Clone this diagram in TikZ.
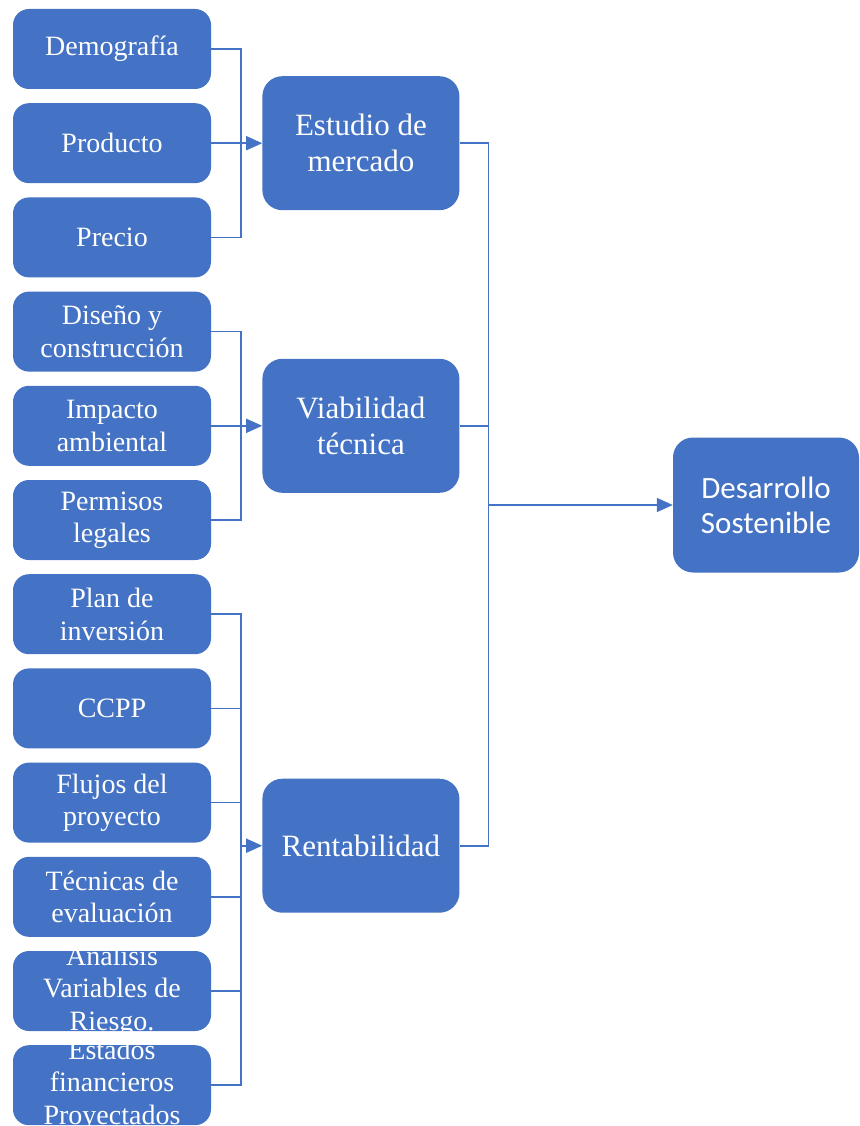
\documentclass[tikz,border=0pt]{standalone}
\usepackage{fontspec}
\usepackage{tikz}
\usepackage{xcolor}
\usetikzlibrary{positioning,arrows.meta}
\setmainfont{Liberation Serif}
\newfontfamily\calibrifont{Carlito}
\definecolor{office-blue}{HTML}{4472C4}
\newcommand{\itemtext}[1]{\begin{minipage}[c][80pt][c]{198pt}\centering #1\end{minipage}}
\tikzset{
    item-box/.style = {fill=office-blue, text=white, rectangle, rounded corners=16pt, inner sep=0pt, font=\fontsize{28}{32.5}\selectfont},
    stage-box/.style = {fill=office-blue, text=white, rectangle, rounded corners=20pt, minimum width=197pt, minimum height=134pt, align=center, font=\fontsize{31}{36}\selectfont},
    goal-box/.style = {fill=office-blue, text=white, rectangle, rounded corners=20pt, minimum width=186pt, minimum height=135pt, align=center, font=\calibrifont\fontsize{31}{35}\selectfont},
    link/.style = {draw=office-blue, line width=1.6pt},
    link-arrow/.style = {link, -{Triangle[length=16pt, width=14pt]}},
}

\begin{document}
\begin{tikzpicture}[x=1pt, y=-1pt]
\useasboundingbox (0,0) rectangle (859,1126);
% left column
\node [item-box] (demo) at (112,49) {\itemtext{Demografía}};
\node [item-box, below=13.8pt of demo] (prod) {\itemtext{Producto}};
\node [item-box, below=13.8pt of prod] (prec) {\itemtext{Precio}};
\node [item-box, below=13.8pt of prec] (dise) {\itemtext{Diseño y\\construcción}};
\node [item-box, below=13.8pt of dise] (impa) {\itemtext{Impacto\\ambiental}};
\node [item-box, below=13.8pt of impa] (perm) {\itemtext{Permisos\\legales}};
\node [item-box, below=13.8pt of perm] (plan) {\itemtext{Plan de\\inversión}};
\node [item-box, below=13.8pt of plan] (ccpp) {\itemtext{CCPP}};
\node [item-box, below=13.8pt of ccpp] (fluj) {\itemtext{Flujos del\\proyecto}};
\node [item-box, below=13.8pt of fluj] (tecn) {\itemtext{Técnicas de\\evaluación}};
\node [item-box, below=13.8pt of tecn] (anal) {\itemtext{Analisis\\Variables de\\Riesgo.}};
\node [item-box, below=13.8pt of anal] (esta) {\itemtext{Estados\\financieros\\Proyectados}};

% middle column
\node [stage-box, right=51pt of prod] (mercado) {Estudio de\\mercado};
\node [stage-box, right=51pt of impa] (viab) {Viabilidad\\técnica};
\path (fluj.east) -- (tecn.east) coordinate[pos=.5] (mid3);
\node [stage-box, right=51pt of mid3, yshift=4pt] (rent) {Rentabilidad};

% right
\node [goal-box] (desa) at (766,505) {Desarrollo\\Sostenible};

% junctions
\coordinate [right=30pt of prod.east] (j1);
\coordinate [right=30pt of impa.east] (j2);
\coordinate (j3) at (j1 |- rent.west);
\coordinate [right=29pt of mercado.east] (m4);
\coordinate (j4) at (m4 |- desa.west);

\draw [link] (demo.east) -| (j1) |- (prec.east);
\draw [link] (prod.east) -- (j1);
\draw [link-arrow] (j1) -- (mercado);

\draw [link] (dise.east) -| (j2) |- (perm.east);
\draw [link] (impa.east) -- (j2);
\draw [link-arrow] (j2) -- (viab);

\draw [link] (plan.east) -| (j3) |- (esta.east);
\foreach \n in {ccpp,fluj,tecn,anal}
    \draw [link] (\n.east) -- (\n.east -| j3);
\draw [link-arrow] (j3) -- (rent);

\draw [link] (mercado.east) -| (j4) |- (rent.east);
\draw [link] (viab.east) -- (viab.east -| j4);
\draw [link-arrow] (j4) -- (desa);
\end{tikzpicture}
\end{document}
